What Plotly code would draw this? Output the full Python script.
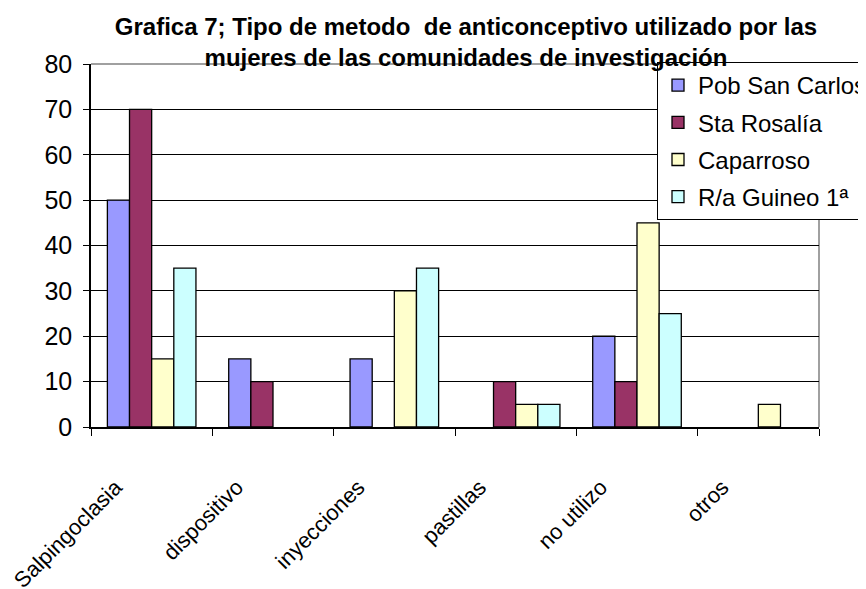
import plotly.graph_objects as go

# Datos
categorias = ["Salpingoclasia", "dispositivo", "inyecciones", "pastillas", "no utilizo", "otros"]
pob_san_carlos = [50, 15, 15, 0, 20, 0]
sta_rosalia = [70, 10, 0, 10, 10, 0]
caparroso = [15, 0, 30, 5, 45, 5]
guineo = [35, 0, 35, 5, 25, 0]

series = [
    ("Pob San Carlos", pob_san_carlos, "#9999FF"),
    ("Sta Rosalía", sta_rosalia, "#993366"),
    ("Caparroso", caparroso, "#FFFFCC"),
    ("R/a Guineo 1ª", guineo, "#CCFFFF"),
]

FONT = "Arial, 'Liberation Sans', sans-serif"

# la pagina deja 8 px de margen, asi que la figura es 8 px mas chica
W, H = 858, 581
PL, PR, PT, PB = 83, 811, 56, 419  # area de trazado en px de la figura

fig = go.Figure()
for i, (nombre, valores, color) in enumerate(series):
    # en Excel las barras con valor 0 no dejan contorno visible
    bordes = [1.3 if v else 0 for v in valores]
    fig.add_trace(go.Bar(
        x=categorias,
        y=valores,
        name=nombre,
        legendgroup=str(i),
        marker=dict(color=color, line=dict(color="black", width=bordes)),
    ))

fig.update_layout(
    width=W,
    height=H,
    barmode="group",
    bargap=0.27,
    bargroupgap=0,
    plot_bgcolor="white",
    paper_bgcolor="white",
    font=dict(family=FONT, color="black"),
    margin=dict(l=PL, r=W - PR, t=PT, b=H - PB, autoexpand=False),
    title=dict(
        text="<b>Grafica 7; Tipo de metodo  de anticonceptivo utilizado por las<br>mujeres de las comunidades de investigación</b>",
        x=458 / W,
        xanchor="center",
        xref="container",
        yref="container",
        y=1 - 27 / H,
        yanchor="top",
        font=dict(size=24, family=FONT, color="black"),
    ),
    legend=dict(
        x=(649 - PL) / (PR - PL),
        y=(PB - 54) / (PB - PT),
        xanchor="left",
        yanchor="top",
        bgcolor="white",
        bordercolor="black",
        borderwidth=1,
        font=dict(size=24, family=FONT),
        tracegroupgap=3,
        itemwidth=30,
    ),
    showlegend=True,
)

fig.update_yaxes(
    range=[0, 80],
    dtick=10,
    showgrid=True,
    gridcolor="black",
    gridwidth=1,
    showline=True,
    linecolor="black",
    linewidth=1.5,
    ticks="outside",
    ticklen=6,
    tickcolor="black",
    tickfont=dict(size=25, family=FONT),
    ticklabelstandoff=6,
    zeroline=False,
)
fig.update_xaxes(
    showline=True,
    linecolor="black",
    linewidth=1.5,
    ticks="outside",
    tickson="boundaries",
    ticklen=7,
    tickcolor="black",
    tickangle=-45,
    tickfont=dict(size=22, family=FONT),
    ticklabelstandoff=37,
    ticklabelshift=-36,
)

# borde gris superior y derecho del area de trazado
fig.add_shape(type="line", xref="paper", yref="paper", x0=0, x1=1, y0=1, y1=1,
              line=dict(color="#808080", width=1.5), layer="below")
fig.add_shape(type="line", xref="paper", yref="paper", x0=1, x1=1, y0=0, y1=1,
              line=dict(color="#808080", width=1.5), layer="below")

fig.write_html("out.html")
